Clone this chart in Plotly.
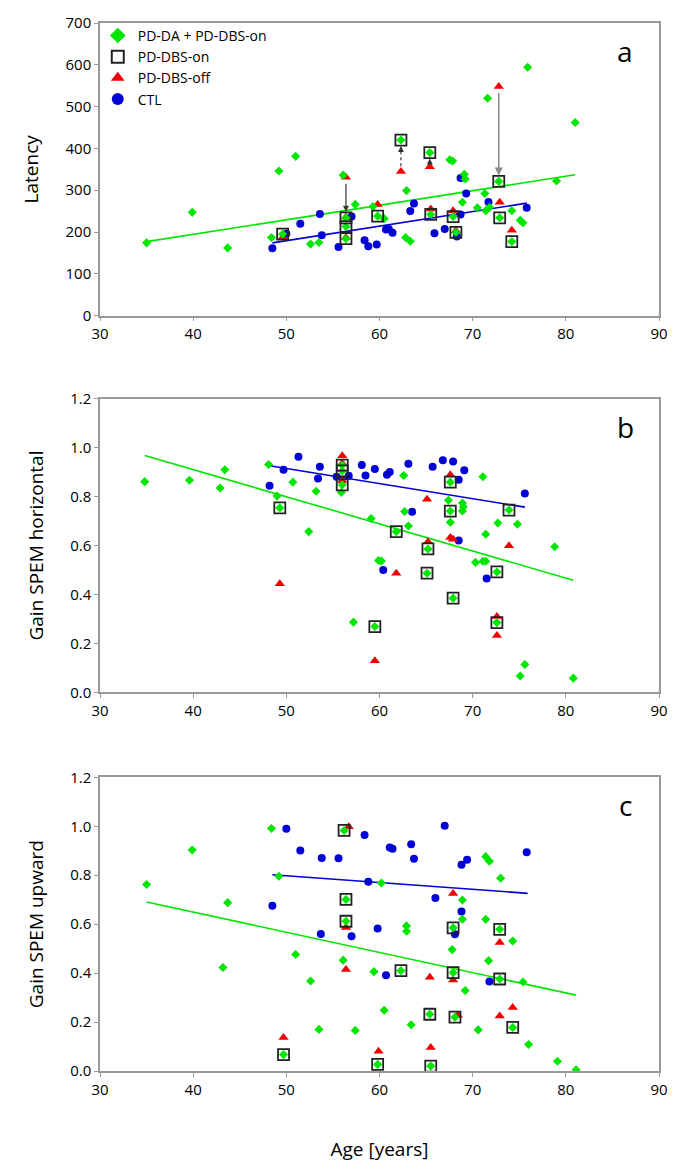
import plotly.graph_objects as go

# ---------------- DATA ----------------
x_ticks = [30, 40, 50, 60, 70, 80, 90]

# Panel a: Latency
a_da_age = [35.0, 39.9, 43.7, 48.4, 49.2, 51.0, 52.6, 53.5, 56.1, 57.4, 59.3, 60.5, 62.8, 63.3, 62.9,
            67.55, 67.85, 69.1, 69.2, 71.6, 75.9, 81.0, 79.0, 71.3, 68.9, 70.5, 71.4, 71.8, 74.2, 75.1, 75.4]
a_da_val = [174, 247, 162, 187, 346, 381, 171, 175, 336, 266, 261, 232, 187, 178, 299,
            373, 370, 338, 327, 520, 594, 462, 322, 292, 271, 258, 251, 259, 251, 228, 222]
a_dbs_age = [49.6, 56.4, 56.4, 56.4, 59.8, 62.3, 65.4, 65.5, 67.9, 68.2, 72.8, 72.9, 74.2]
a_dbs_on = [195, 234, 213, 184, 238, 420, 390, 242, 237, 199, 321, 234, 177]
a_dbs_off = [187, 331, 236, 187, 266, 345, 356, 255, 251, 203, 548, 271, 204]
a_ctl_age = [48.5, 50.0, 51.5, 53.6, 53.8, 55.6, 57.0, 58.4, 58.8, 59.7, 60.7, 61.0, 61.4, 63.3, 63.7,
             65.9, 67.0, 68.3, 68.7, 68.7, 69.3, 71.7, 75.8]
a_ctl_val = [161, 196, 220, 243, 192, 164, 237, 180, 166, 170, 206, 207, 198, 250, 268,
             197, 207, 189, 242, 329, 292, 272, 258]
a_fit_pd_age = [35.0, 81.0]
a_fit_pd_val = [177, 337]
a_fit_ctl_age = [48.5, 75.8]
a_fit_ctl_val = [174, 269]
# arrows (index into DBS lists, line style, colour)
a_arrows = [(1, "solid", "#333333"), (5, "dot", "#333333"), (6, "solid", "#333333"), (10, "solid", "#8c8c8c")]

# Panel b: Gain SPEM horizontal
b_da_age = [34.8, 39.6, 42.9, 43.4, 48.1, 49.0, 50.7, 52.4, 53.2, 55.9, 57.2, 59.1, 59.9, 60.2, 62.6,
            62.7, 63.1, 67.4, 67.6, 68.9, 69.0, 68.9, 71.1, 72.7, 71.4, 74.8, 78.8, 70.3, 71.1, 71.4,
            75.6, 75.1, 80.8]
b_da_val = [0.861, 0.867, 0.835, 0.910, 0.931, 0.802, 0.859, 0.657, 0.822, 0.817, 0.287, 0.710, 0.539, 0.537, 0.886,
            0.739, 0.680, 0.785, 0.695, 0.774, 0.758, 0.741, 0.881, 0.692, 0.646, 0.687, 0.595, 0.531, 0.536, 0.536,
            0.114, 0.067, 0.058]
b_dbs_age = [49.3, 56.0, 56.0, 56.0, 59.5, 61.8, 65.2, 65.1, 67.6, 67.6, 67.9, 72.6, 72.6, 73.9]
b_dbs_on = [0.754, 0.929, 0.905, 0.848, 0.269, 0.657, 0.586, 0.487, 0.859, 0.741, 0.385, 0.492, 0.285, 0.745]
b_dbs_off = [0.444, 0.967, 0.936, 0.865, 0.129, 0.487, 0.615, 0.789, 0.889, 0.633, 0.626, 0.310, 0.232, 0.599]
b_ctl_age = [48.2, 49.7, 51.3, 53.6, 53.4, 55.4, 56.7, 58.1, 58.5, 59.5, 60.8, 61.1, 60.4, 63.1, 63.5,
             65.7, 66.8, 67.9, 69.1, 68.5, 68.5, 71.5, 75.6]
b_ctl_val = [0.844, 0.910, 0.963, 0.922, 0.874, 0.881, 0.885, 0.929, 0.886, 0.913, 0.889, 0.901, 0.500, 0.934, 0.738,
             0.922, 0.949, 0.943, 0.908, 0.869, 0.621, 0.465, 0.813]
b_fit_pd_age = [34.8, 80.8]
b_fit_pd_val = [0.968, 0.458]
b_fit_ctl_age = [48.2, 75.6]
b_fit_ctl_val = [0.926, 0.757]

# Panel c: Gain SPEM upward
c_da_age = [35.0, 39.9, 43.7, 43.2, 48.4, 49.2, 51.0, 52.6, 53.5, 56.1, 57.4, 59.4, 60.2, 60.5, 62.9,
            62.9, 63.4, 67.8, 68.9, 68.9, 69.2, 70.6, 71.4, 71.8, 71.4, 71.7, 73.0, 74.3, 75.4, 76.0,
            79.1, 81.1]
c_da_val = [0.762, 0.903, 0.688, 0.423, 0.991, 0.796, 0.476, 0.368, 0.170, 0.453, 0.166, 0.406, 0.768, 0.248, 0.593,
            0.571, 0.189, 0.496, 0.699, 0.620, 0.329, 0.168, 0.876, 0.857, 0.620, 0.451, 0.788, 0.531, 0.364, 0.108,
            0.040, 0.005]
c_dbs_age = [49.7, 56.2, 56.4, 56.4, 59.8, 62.3, 65.4, 65.5, 67.9, 67.9, 68.1, 72.9, 72.9, 74.3]
c_dbs_on = [0.067, 0.983, 0.701, 0.612, 0.027, 0.410, 0.232, 0.020, 0.585, 0.402, 0.220, 0.579, 0.376, 0.178]
c_dbs_off = [0.137, 0.998, 0.586, 0.415, 0.081, None, 0.383, 0.096, 0.725, 0.372, 0.228, 0.525, 0.225, 0.260]
c_dbs_off_age = [49.7, 56.7, 56.4, 56.4, 59.9, 62.3, 65.4, 65.5, 67.9, 67.9, 68.4, 72.9, 72.9, 74.3]
c_ctl_age = [48.5, 50.0, 51.5, 53.8, 55.6, 53.7, 57.0, 58.4, 58.8, 59.8, 60.7, 61.1, 61.4, 63.4, 63.7,
             66.0, 67.0, 68.8, 69.4, 68.8, 68.1, 71.8, 75.8]
c_ctl_val = [0.675, 0.990, 0.901, 0.870, 0.869, 0.560, 0.551, 0.964, 0.773, 0.582, 0.391, 0.913, 0.908, 0.927, 0.867,
             0.707, 1.002, 0.843, 0.863, 0.652, 0.559, 0.366, 0.894]
c_fit_pd_age = [35.0, 81.1]
c_fit_pd_val = [0.691, 0.310]
c_fit_ctl_age = [48.5, 75.9]
c_fit_ctl_val = [0.802, 0.726]

# ---------------- STYLE ----------------
GREEN = "rgb(0,230,0)"
BLUE = "rgb(0,0,215)"
RED = "rgb(240,0,0)"
FONT = "Open Sans"

fig = go.Figure()

panels = [
    dict(xa="x", ya="y", da=(a_da_age, a_da_val), dbs=(a_dbs_age, a_dbs_on, a_dbs_age, a_dbs_off),
         ctl=(a_ctl_age, a_ctl_val), fpd=(a_fit_pd_age, a_fit_pd_val), fctl=(a_fit_ctl_age, a_fit_ctl_val)),
    dict(xa="x2", ya="y2", da=(b_da_age, b_da_val), dbs=(b_dbs_age, b_dbs_on, b_dbs_age, b_dbs_off),
         ctl=(b_ctl_age, b_ctl_val), fpd=(b_fit_pd_age, b_fit_pd_val), fctl=(b_fit_ctl_age, b_fit_ctl_val)),
    dict(xa="x3", ya="y3", da=(c_da_age, c_da_val), dbs=(c_dbs_age, c_dbs_on, c_dbs_off_age, c_dbs_off),
         ctl=(c_ctl_age, c_ctl_val), fpd=(c_fit_pd_age, c_fit_pd_val), fctl=(c_fit_ctl_age, c_fit_ctl_val)),
]

for i, p in enumerate(panels):
    show = i == 0
    xa, ya = p["xa"], p["ya"]
    fig.add_trace(go.Scatter(x=p["fpd"][0], y=p["fpd"][1], mode="lines", line=dict(color=GREEN, width=1.6),
                             xaxis=xa, yaxis=ya, showlegend=False, hoverinfo="skip"))
    fig.add_trace(go.Scatter(x=p["fctl"][0], y=p["fctl"][1], mode="lines", line=dict(color=BLUE, width=1.6),
                             xaxis=xa, yaxis=ya, showlegend=False, hoverinfo="skip"))
    fig.add_trace(go.Scatter(x=p["ctl"][0], y=p["ctl"][1], mode="markers", name="CTL",
                             marker=dict(symbol="circle", color=BLUE, size=8),
                             xaxis=xa, yaxis=ya, showlegend=show, legendrank=4))
    fig.add_trace(go.Scatter(x=p["dbs"][2], y=p["dbs"][3], mode="markers", name="PD-DBS-off",
                             marker=dict(symbol="triangle-up", color=RED, size=9),
                             xaxis=xa, yaxis=ya, showlegend=show, legendrank=3))
    gx = list(p["da"][0]) + list(p["dbs"][0])
    gy = list(p["da"][1]) + list(p["dbs"][1])
    fig.add_trace(go.Scatter(x=gx, y=gy, mode="markers", name="PD-DA + PD-DBS-on",
                             marker=dict(symbol="diamond", color=GREEN, size=7),
                             xaxis=xa, yaxis=ya, showlegend=show, legendrank=1))
    fig.add_trace(go.Scatter(x=p["dbs"][0], y=p["dbs"][1], mode="markers", name="PD-DBS-on",
                             marker=dict(symbol="square-open", color="#222222", size=11, line=dict(width=1.8)),
                             xaxis=xa, yaxis=ya, showlegend=show, legendrank=2))

# arrows in panel a (off -> on)
for idx, dash, col in a_arrows:
    x0, y0, y1 = a_dbs_age[idx], a_dbs_off[idx], a_dbs_on[idx]
    direction = 1 if y1 > y0 else -1
    if dash == "dot":
        fig.add_shape(type="line", xref="x", yref="y", x0=x0, x1=x0, y0=y0 + direction * 12, y1=y1 - direction * 22,
                      line=dict(color=col, width=1.2, dash="dot"))
        fig.add_annotation(x=x0, y=y1, xref="x", yref="y", ax=x0, ay=y1 - direction * 26, axref="x", ayref="y",
                           showarrow=True, arrowhead=2, arrowsize=1, arrowwidth=1.2, arrowcolor=col,
                           standoff=6, text="")
    else:
        fig.add_annotation(x=x0, y=y1, xref="x", yref="y", ax=x0, ay=y0, axref="x", ayref="y",
                           showarrow=True, arrowhead=2, arrowsize=1, arrowwidth=1.6 if col != "#333333" else 1.2,
                           arrowcolor=col, standoff=6, startstandoff=5, text="")

# panel letters
for letter, xr, yr in [("a", "x domain", "y domain"), ("b", "x2 domain", "y2 domain"), ("c", "x3 domain", "y3 domain")]:
    fig.add_annotation(text=letter, xref=xr, yref=yr, x=0.94, y=0.905, showarrow=False,
                       font=dict(family=FONT, size=28, color="black"), xanchor="center", yanchor="middle")

axis_common = dict(showline=True, linecolor="#999999", linewidth=1.5, mirror=True, showgrid=False,
                   zeroline=False, ticks="outside", ticklen=4, tickcolor="#999999",
                   tickfont=dict(family=FONT, size=15, color="black"))

fig.update_layout(
    width=685, height=1169,
    margin=dict(l=100, r=26, t=13, b=96),
    paper_bgcolor="white", plot_bgcolor="white",
    font=dict(family=FONT, color="black"),
    legend=dict(x=-0.004, y=1.003, xanchor="left", yanchor="top", xref="paper", yref="paper",
                font=dict(family=FONT, size=14, color="black"), bgcolor="rgba(0,0,0,0)",
                tracegroupgap=0, itemsizing="constant"),
    xaxis=dict(domain=[0, 1], anchor="y", range=[30, 90], tickvals=x_ticks, **axis_common),
    yaxis=dict(domain=[0.7208, 1.0], anchor="x", range=[0, 700], tickvals=list(range(0, 701, 100)),
               title=dict(text="Latency", font=dict(family=FONT, size=19), standoff=22), **axis_common),
    xaxis2=dict(domain=[0, 1], anchor="y2", range=[30, 90], tickvals=x_ticks, **axis_common),
    yaxis2=dict(domain=[0.3613, 0.6415], anchor="x2", range=[0, 1.2], tickvals=[0, 0.2, 0.4, 0.6, 0.8, 1.0, 1.2],
                tickformat=".1f",
                title=dict(text="Gain SPEM horizontal", font=dict(family=FONT, size=19), standoff=22), **axis_common),
    xaxis3=dict(domain=[0, 1], anchor="y3", range=[30, 90], tickvals=x_ticks,
                title=dict(text="Age [years]", font=dict(family=FONT, size=19), standoff=45), **axis_common),
    yaxis3=dict(domain=[0.0, 0.2802], anchor="x3", range=[0, 1.2], tickvals=[0, 0.2, 0.4, 0.6, 0.8, 1.0, 1.2],
                tickformat=".1f",
                title=dict(text="Gain SPEM upward", font=dict(family=FONT, size=19), standoff=22), **axis_common),
)

fig.write_html("out.html", config={"displayModeBar": False},
               post_script="document.body.style.margin='0';document.body.style.overflow='hidden';")
